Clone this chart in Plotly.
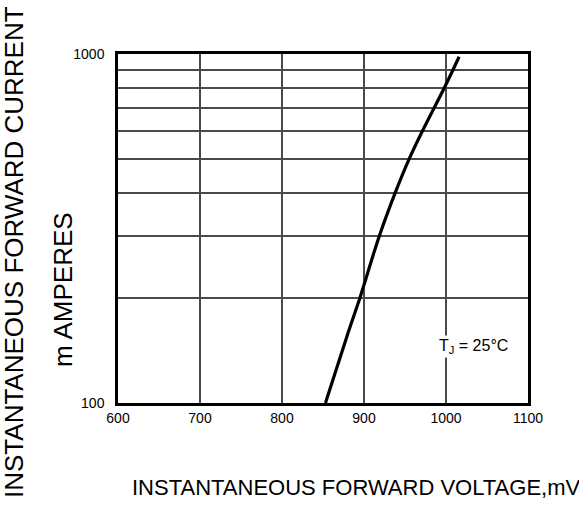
import plotly.graph_objects as go

# Data
voltage_mv = [853, 881, 895, 900, 918.5, 938, 955, 971, 998, 1016]
current_ma = [100, 160, 200, 218, 300, 400, 500, 600, 800, 982]

x_ticks = [600, 700, 800, 900, 1000, 1100]
y_grid = [100, 200, 300, 400, 500, 600, 700, 800, 900, 1000]
y_labels = ["100", "", "", "", "", "", "", "", "", "1000"]

FONT = "Arial, Liberation Sans, Helvetica, sans-serif"

fig = go.Figure()
fig.add_trace(go.Scatter(
    x=voltage_mv, y=current_ma, mode="lines",
    line=dict(color="black", width=3.2, shape="spline", smoothing=1.0),
    showlegend=False, hoverinfo="skip",
))

fig.update_layout(
    width=579, height=505,
    margin=dict(l=118, r=51, t=54, b=102),
    paper_bgcolor="white", plot_bgcolor="white",
    font=dict(family=FONT, color="black", size=14),
    xaxis=dict(
        range=[600, 1100], tickvals=x_ticks, ticktext=[str(v) for v in x_ticks],
        showgrid=True, gridcolor="#4a4a4a", gridwidth=1.5,
        showline=True, linecolor="black", linewidth=2.5, mirror=True,
        ticks="", zeroline=False, tickfont=dict(size=14, family=FONT),
        ticklabelstandoff=0,
    ),
    yaxis=dict(
        type="log", range=[2, 3], tickvals=y_grid, ticktext=y_labels,
        showgrid=True, gridcolor="#4a4a4a", gridwidth=1.5,
        showline=True, linecolor="black", linewidth=2.5, mirror=True,
        ticks="", zeroline=False, tickfont=dict(size=14, family=FONT),
        ticklabelstandoff=8,
    ),
)

fig.add_annotation(
    x=0, y=0, xref="paper", yref="paper", xshift=-104, yshift=151,
    text="INSTANTANEOUS FORWARD CURRENT", textangle=-90, showarrow=False,
    xanchor="center", yanchor="middle", font=dict(size=26, family=FONT),
)
fig.add_annotation(
    x=0, y=0, xref="paper", yref="paper", xshift=-55, yshift=113,
    text="m AMPERES", textangle=-90, showarrow=False,
    xanchor="center", yanchor="middle", font=dict(size=26, family=FONT),
)
fig.add_annotation(
    x=0, y=0, xref="paper", yref="paper", xshift=238, yshift=-84,
    text="INSTANTANEOUS FORWARD VOLTAGE,mV", showarrow=False,
    xanchor="center", yanchor="middle", font=dict(size=22, family=FONT),
)
fig.add_annotation(
    x=1033.6, y=2.163, xref="x", yref="y",
    text="T<sub>J</sub> = 25°C", showarrow=False, bgcolor="white",
    xanchor="center", yanchor="middle", font=dict(size=16, family=FONT),
)

fig.write_html("out.html", config={"displayModeBar": False},
               post_script="document.body.style.margin='0';")
